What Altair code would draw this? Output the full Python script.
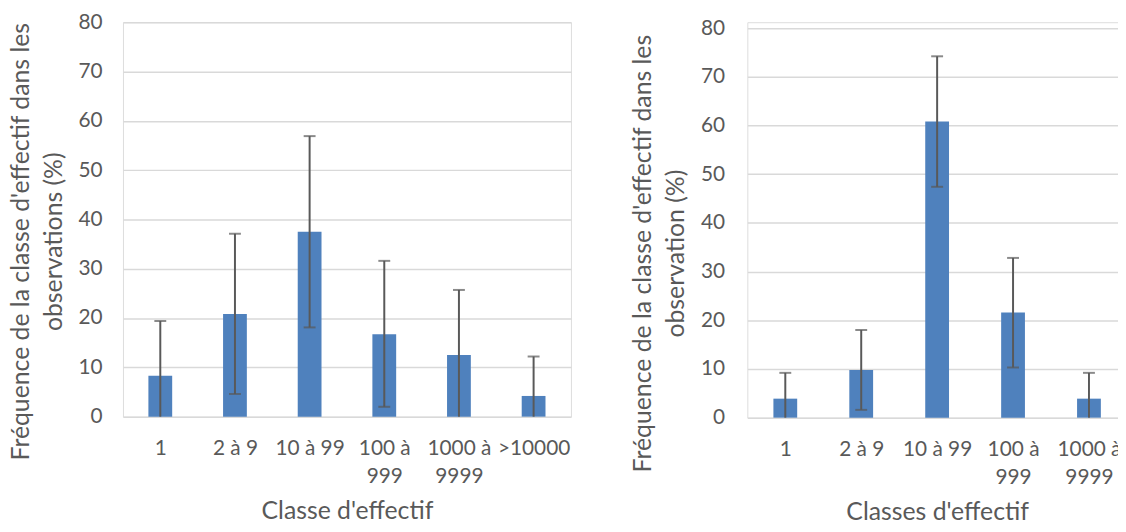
import altair as alt
import pandas as pd

cats_left = ["1", "2 à 9", "10 à 99", "100 à 999", "1000 à 9999", ">10000"]
freq_left = [8.3, 20.8, 37.5, 16.7, 12.5, 4.2]
lo_left = [0.0, 4.6, 18.1, 2.0, 0.0, 0.0]
hi_left = [19.4, 37.1, 56.9, 31.6, 25.7, 12.2]

cats_right = ["1", "2 à 9", "10 à 99", "100 à 999", "1000 à 9999"]
freq_right = [3.9, 9.8, 60.8, 21.6, 3.9]
lo_right = [0.0, 1.6, 47.4, 10.3, 0.0]
hi_right = [9.2, 18.0, 74.2, 32.8, 9.2]

y_ticks = [0, 10, 20, 30, 40, 50, 60, 70, 80]

FONT = "Lato"
GREY = "#595959"
BLUE = "#4f81bd"

label_expr = ("length(datum.label) > 8 ? [slice(datum.label, 0, indexof(datum.label, 'à') + 1), "
              "slice(datum.label, indexof(datum.label, 'à') + 2)] : datum.label")


def panel(cats, freq, lo, hi, xtitle, ytitle, width, height, ydomain, title_y, ypad):
    df = pd.DataFrame({"cat": cats, "freq": freq, "lo": lo, "hi": hi})
    x = alt.X("cat:N", sort=cats, title=xtitle,
              scale=alt.Scale(type="point", padding=0.5),
              axis=alt.Axis(labelAngle=0, labelExpr=label_expr, labelFontSize=21,
                            labelColor=GREY, labelFont=FONT, labelPadding=21,
                            labelLineHeight=28, ticks=False, domain=False,
                            titleFontSize=25, titleColor=GREY, titleFont=FONT,
                            titleFontWeight="normal", titlePadding=13))
    y = alt.Y("freq:Q", title=ytitle,
              scale=alt.Scale(domain=ydomain, nice=False),
              axis=alt.Axis(values=y_ticks, labelFontSize=21, labelColor=GREY,
                            labelFont=FONT, labelPadding=ypad, ticks=False, domain=False,
                            grid=True, gridColor="#d9d9d9", gridWidth=1.5,
                            titleFontSize=25, titleColor=GREY, titleFont=FONT,
                            titleFontWeight="normal", titlePadding=12,
                            titleLineHeight=33, titleY=title_y))
    base = alt.Chart(df)
    bars = base.mark_bar(color=BLUE, size=24).encode(x=x, y=y)
    rule = base.mark_rule(color=GREY, strokeWidth=2).encode(
        x=alt.X("cat:N", sort=cats), y="lo:Q", y2="hi:Q")
    cap_hi = base.mark_tick(color=GREY, thickness=2, size=12, orient="horizontal").encode(
        x=alt.X("cat:N", sort=cats), y="hi:Q")
    cap_lo = base.transform_filter("datum.lo > 0").mark_tick(
        color=GREY, thickness=2, size=12, orient="horizontal").encode(
        x=alt.X("cat:N", sort=cats), y="lo:Q")
    return alt.layer(bars, rule, cap_hi, cap_lo).properties(width=width, height=height)


left = panel(cats_left, freq_left, lo_left, hi_left, "Classe d'effectif",
             ["Fréquence de la classe d'effectif dans les", "observations (%)"],
             452, 398, [0, 80], 221, 21)
right = panel(cats_right, freq_right, lo_right, hi_right, "Classes d'effectif",
              ["Fréquence de la classe d'effectif dans les", "observation (%)"],
              383, 399, [0, 81.2], 233, 23)

chart = alt.hconcat(left, right, spacing=59).properties(
    padding={"left": 0, "top": 0, "right": -10, "bottom": 0}
).configure_view(stroke=None).configure(background="white")

chart.save("out.html", embed_options={"renderer": "svg", "actions": False})
